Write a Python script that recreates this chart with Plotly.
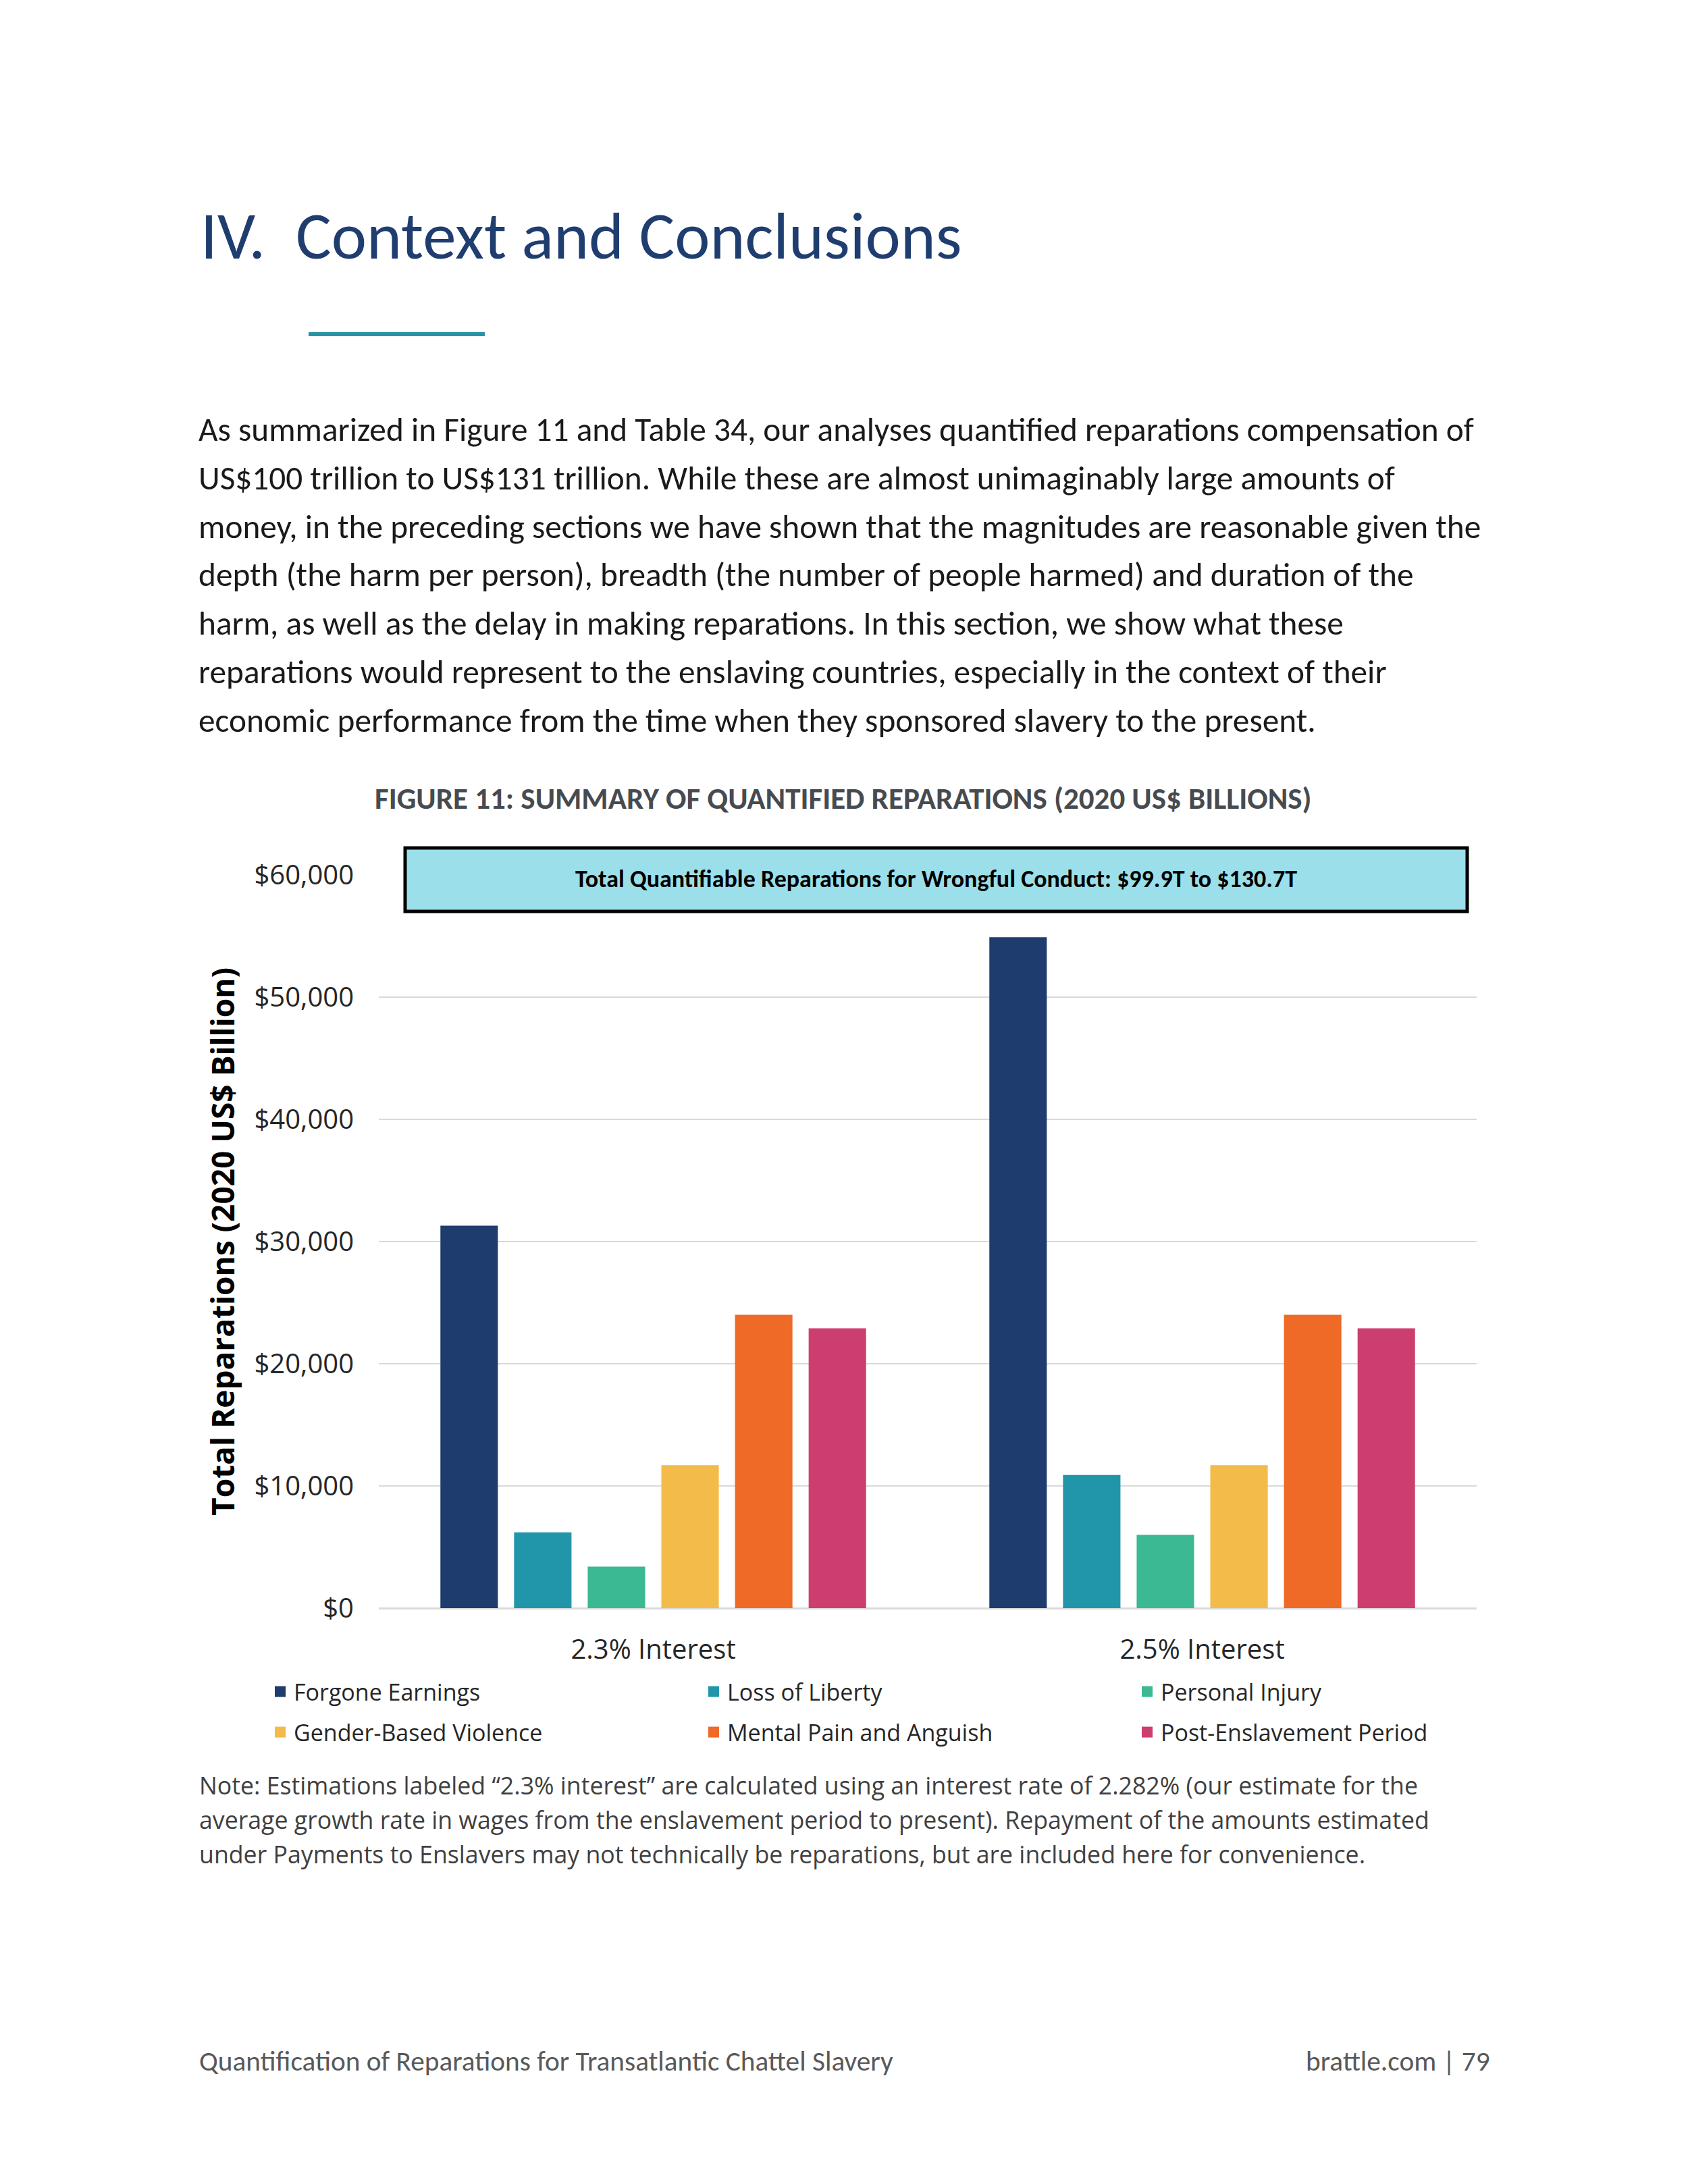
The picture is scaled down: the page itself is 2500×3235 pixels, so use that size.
import plotly.graph_objects as go

# ---------------- data ----------------
categories = ["2.3% Interest", "2.5% Interest"]
series_names = ["Forgone Earnings", "Loss of Liberty", "Personal Injury",
                "Gender-Based Violence", "Mental Pain and Anguish", "Post-Enslavement Period"]
forgone_earnings = [31300, 54900]
loss_of_liberty = [6200, 10900]
personal_injury = [3400, 6000]
gender_based_violence = [11700, 11700]
mental_pain = [24000, 24000]
post_enslavement = [22900, 22900]
series_values = [forgone_earnings, loss_of_liberty, personal_injury,
                 gender_based_violence, mental_pain, post_enslavement]
colors = ["#1E3C6E", "#2196AB", "#3AB993", "#F2BB4A", "#EE6A26", "#CD3E70"]
y_ticks = [0, 10000, 20000, 30000, 40000, 50000, 60000]
y_ticktext = ["$" + format(v, ",") for v in y_ticks]

# ---------------- layout geometry (pixels) ----------------
W, H = 2500, 3235
OFF = 8  # page body margin added by the browser
PL, PR, PT, PB = 561, 2187, 1296, 2382   # plot area edges (target pixels)


def px(x):
    return (x - PL) / (PR - PL)


def py(y):
    return (PB - y) / (PB - PT)


CAL = "Carlito, Calibri, 'Open Sans', sans-serif"
OS = "'Open Sans', 'Noto Sans', sans-serif"

fig = go.Figure()
for i, (name, vals, col) in enumerate(zip(series_names, series_values, colors)):
    fig.add_trace(go.Bar(x=categories, y=vals, name=name, marker=dict(color=col, line=dict(width=0)),
                         showlegend=False, legendgroup=name))
# legend entries (two rows -> two legends)
for i, (name, col) in enumerate(zip(series_names, colors)):
    fig.add_trace(go.Scatter(x=[None], y=[None], mode="markers", name=name, legendgroup=name,
                             marker=dict(symbol="square", size=16, color=col),
                             legend="legend" if i < 3 else "legend2"))

annotations = []
shapes = []

# Section title
annotations.append(dict(text="IV.  Context and Conclusions", x=px(295), y=py(350), xref="paper", yref="paper",
                        xanchor="left", yanchor="middle", showarrow=False,
                        font=dict(family=CAL, size=99, color="#1F3E6F")))
# teal rule
shapes.append(dict(type="line", xref="paper", yref="paper", x0=px(457), x1=px(718), y0=py(495), y1=py(495),
                   line=dict(color="#2A93A6", width=6)))

body_lines = [
    "As summarized in Figure 11 and Table 34, our analyses quantified reparations compensation of",
    "US$100 trillion to US$131 trillion. While these are almost unimaginably large amounts of",
    "money, in the preceding sections we have shown that the magnitudes are reasonable given the",
    "depth (the harm per person), breadth (the number of people harmed) and duration of the",
    "harm, as well as the delay in making reparations. In this section, we show what these",
    "reparations would represent to the enslaving countries, especially in the context of their",
    "economic performance from the time when they sponsored slavery to the present.",
]
for i, line in enumerate(body_lines):
    annotations.append(dict(text=line, x=px(292), y=py(636 + i * 71.8), xref="paper", yref="paper",
                            xanchor="left", yanchor="middle", showarrow=False,
                            font=dict(family=CAL, size=49.3, color="#1A1A1A")))

# figure caption
annotations.append(dict(text="<b>FIGURE 11: SUMMARY OF QUANTIFIED REPARATIONS (2020 US$ BILLIONS)</b>",
                        x=px(1249), y=py(1182), xref="paper", yref="paper", xanchor="center", yanchor="middle",
                        showarrow=False, font=dict(family=CAL, size=45, color="#474B50")))

# total box
shapes.append(dict(type="rect", xref="paper", yref="paper", x0=px(600), x1=px(2173), y0=py(1256), y1=py(1350),
                   fillcolor="#9BDFEB", line=dict(color="#000000", width=5), layer="above"))
annotations.append(dict(text="<b>Total Quantifiable Reparations for Wrongful Conduct: $99.9T to $130.7T</b>",
                        x=px(1386), y=py(1302), xref="paper", yref="paper", xanchor="center", yanchor="middle",
                        showarrow=False, font=dict(family=CAL, size=36, color="#000000")))

# note
note_lines = [
    "Note: Estimations labeled \u201c2.3% interest\u201d are calculated using an interest rate of 2.282% (our estimate for the",
    "average growth rate in wages from the enslavement period to present). Repayment of the amounts estimated",
    "under Payments to Enslavers may not technically be reparations, but are included here for convenience.",
]
for i, line in enumerate(note_lines):
    annotations.append(dict(text=line, x=px(293), y=py(2644 + i * 51), xref="paper", yref="paper",
                            xanchor="left", yanchor="middle", showarrow=False,
                            font=dict(family=OS, size=35.7, color="#404040")))

# footer
annotations.append(dict(text="Quantification of Reparations for Transatlantic Chattel Slavery", x=px(293), y=py(3053),
                        xref="paper", yref="paper", xanchor="left", yanchor="middle", showarrow=False,
                        font=dict(family=CAL, size=41.3, color="#595959")))
annotations.append(dict(text="brattle.com | 79", x=px(2209), y=py(3053),
                        xref="paper", yref="paper", xanchor="right", yanchor="middle", showarrow=False,
                        font=dict(family=CAL, size=41.3, color="#595959")))

fig.update_layout(
    width=W, height=H,
    margin=dict(l=PL - OFF, r=W - PR + OFF, t=PT - OFF, b=H - PB + OFF, autoexpand=False),
    paper_bgcolor="white", plot_bgcolor="white",
    barmode="group", bargap=0.195, bargroupgap=0.22,
    annotations=annotations, shapes=shapes,
    font=dict(family=OS, color="#262626"),
    legend=dict(orientation="h", x=px(395), y=py(2506), xanchor="left", yanchor="middle",
                entrywidth=597, entrywidthmode="pixels", font=dict(family=OS, size=34, color="#262626"),
                itemsizing="trace", bgcolor="rgba(0,0,0,0)", traceorder="normal"),
    legend2=dict(orientation="h", x=px(395), y=py(2566), xanchor="left", yanchor="middle",
                 entrywidth=597, entrywidthmode="pixels", font=dict(family=OS, size=34, color="#262626"),
                 itemsizing="trace", bgcolor="rgba(0,0,0,0)", traceorder="normal"),
)
fig.update_yaxes(range=[0, 60000], tickmode="array", tickvals=y_ticks, ticktext=y_ticktext,
                 showgrid=True, gridcolor="#D9D9D9", gridwidth=2,
                 zeroline=True, zerolinecolor="#D9D9D9", zerolinewidth=3,
                 showline=False, ticks="", ticklabelstandoff=36,
                 tickfont=dict(family=OS, size=40, color="#262626"),
                 title=dict(text="<b>Total Reparations (2020 US$ Billion)</b>", standoff=14,
                            font=dict(family=OS, size=46, color="#000000")))
fig.update_xaxes(showline=False, ticks="", showgrid=False, ticklabelstandoff=34,
                 tickfont=dict(family=OS, size=40, color="#262626"))

fig.write_html("out.html")
